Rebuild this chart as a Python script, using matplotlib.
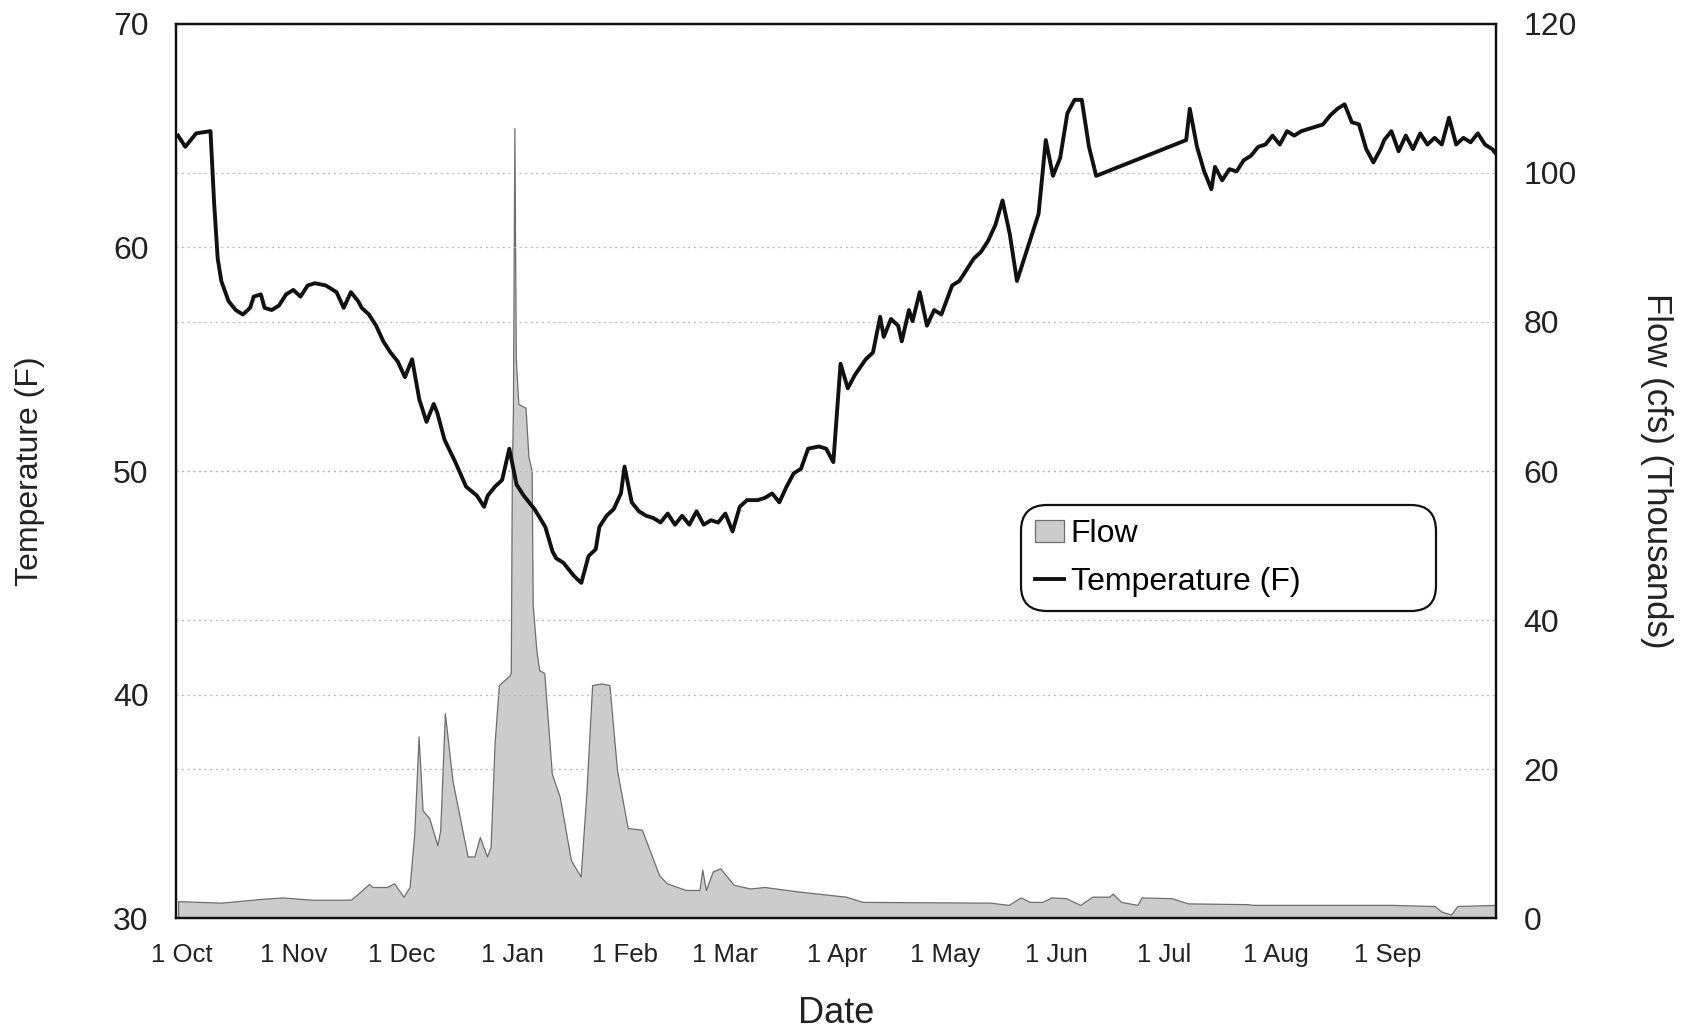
import matplotlib
matplotlib.use("Agg")
import matplotlib.pyplot as plt

# ---- data (day offset from 1 Oct) ----
temp_day = [-1, 1, 4, 8, 9, 10, 11, 13, 15, 17, 19, 20, 22, 23, 25, 27, 29, 31, 33, 35,
            37, 40, 43, 45, 47, 49, 50, 52, 54, 56, 58, 60, 62, 64, 66, 68, 70, 71, 73, 76,
            79, 82, 84, 85, 87, 89, 91, 93, 95, 98, 101, 103, 104, 106, 109, 111, 113, 115, 116, 118,
            120, 122, 123, 125, 127, 129, 131, 133, 135, 137, 139, 141, 143, 145, 147, 149, 151, 153, 155, 157,
            160, 162, 164, 166, 168, 170, 172, 174, 177, 179, 181, 183, 185, 187, 190, 192, 194, 195, 197, 199,
            200, 202, 203, 205, 207, 209, 211, 214, 216, 218, 220, 222, 224, 226, 228, 230, 232, 234, 236, 238,
            240, 242, 244, 246, 248, 250, 252, 254, 279, 280, 282, 284, 286, 287, 289, 291, 293, 295, 297, 299,
            301, 303, 305, 307, 309, 311, 313, 315, 317, 319, 321, 323, 325, 327, 329, 331, 333, 334, 336, 338,
            340, 342, 344, 346, 348, 350, 352, 354, 356, 358, 360, 362, 364, 365]
temp_val = [65.0, 64.5, 65.1, 65.2, 62.0, 59.5, 58.5, 57.6, 57.2, 57.0, 57.3, 57.8, 57.9, 57.3, 57.2, 57.4, 57.9, 58.1, 57.8, 58.3,
            58.4, 58.3, 58.0, 57.3, 58.0, 57.6, 57.3, 57.0, 56.5, 55.8, 55.3, 54.9, 54.2, 55.0, 53.2, 52.2, 53.0, 52.6, 51.4, 50.4,
            49.3, 48.9, 48.4, 48.9, 49.3, 49.6, 51.0, 49.4, 48.9, 48.3, 47.5, 46.4, 46.1, 45.9, 45.3, 45.0, 46.2, 46.5, 47.5, 48.0,
            48.3, 49.0, 50.2, 48.6, 48.2, 48.0, 47.9, 47.7, 48.1, 47.6, 48.0, 47.6, 48.2, 47.6, 47.8, 47.7, 48.1, 47.3, 48.4, 48.7,
            48.7, 48.8, 49.0, 48.6, 49.3, 49.9, 50.1, 51.0, 51.1, 51.0, 50.4, 54.8, 53.7, 54.3, 55.0, 55.3, 56.9, 56.0, 56.8, 56.5,
            55.8, 57.2, 56.7, 58.0, 56.5, 57.2, 57.0, 58.3, 58.5, 59.0, 59.5, 59.8, 60.3, 61.0, 62.1, 60.6, 58.5, 59.5, 60.5, 61.5,
            64.8, 63.2, 64.0, 66.0, 66.6, 66.6, 64.5, 63.2, 64.8, 66.2, 64.5, 63.4, 62.6, 63.6, 63.0, 63.5, 63.4, 63.9, 64.1, 64.5,
            64.6, 65.0, 64.6, 65.2, 65.0, 65.2, 65.3, 65.4, 65.5, 65.9, 66.2, 66.4, 65.6, 65.5, 64.4, 63.8, 64.4, 64.8, 65.2, 64.3,
            65.0, 64.4, 65.1, 64.6, 64.9, 64.6, 65.8, 64.6, 64.9, 64.7, 65.1, 64.6, 64.4, 64.2]

flow_day = [-1, 11, 22, 28, 36, 47, 49, 52, 53, 57, 59, 60, 61.6, 63.3, 64.6, 65.8, 66.9, 68.8, 71.0, 71.8,
            73.1, 75.2, 79.4, 81.3, 82.8, 84.8, 85.8, 86.9, 88.1, 91.1, 91.4, 91.7, 92.0, 92.4, 92.8, 93.5, 95.5, 96.3, 97.2, 97.5,
            98.5, 99.3, 100.7, 102.8, 105.0, 108.1, 110.8, 112.4, 114.0, 116.6, 118.8, 120.9, 123.9, 127.8, 132.6, 134.7, 140.0, 143.8, 144.6, 145.6,
            147.5, 149.6, 153.3, 157.9, 161.9, 171.2, 184.5, 189.1, 224.4, 229.7, 233.0, 235.6, 239.0, 241.6, 245.6, 249.6, 252.9, 257.6, 258.6, 260.9,
            265.5, 266.6, 274.9, 279.5, 296.1, 297.4, 336.0, 348.0, 349.9, 352.6, 354.3, 365.2]
flow_val = [2.3, 2.1, 2.6, 2.8, 2.5, 2.5, 3.3, 4.6, 4.2, 4.2, 4.7, 4.0, 2.9, 4.2, 11.4, 24.4, 14.5, 13.4, 9.8, 11.8,
            27.5, 18.5, 8.3, 8.3, 10.9, 8.3, 9.6, 23.5, 31.3, 32.6, 33.0, 60.0, 68.0, 106.0, 75.0, 69.0, 68.5, 62.0, 60.0, 42.0,
            36.0, 33.3, 32.9, 19.4, 16.3, 7.8, 5.6, 16.8, 31.3, 31.5, 31.3, 19.9, 12.1, 11.9, 5.8, 4.7, 3.8, 3.8, 6.5, 3.8,
            6.3, 6.7, 4.5, 4.0, 4.2, 3.6, 2.9, 2.2, 2.1, 1.8, 2.8, 2.2, 2.2, 2.8, 2.7, 1.8, 2.9, 2.9, 3.3, 2.2,
            1.8, 2.8, 2.7, 2.0, 1.9, 1.8, 1.8, 1.65, 0.9, 0.5, 1.65, 1.8]

month_ticks = [0, 31, 61, 92, 123, 151, 182, 212, 243, 273, 304, 335]
month_labels = ["1 Oct", "1 Nov", "1 Dec", "1 Jan", "1 Feb", "1 Mar",
                "1 Apr", "1 May", "1 Jun", "1 Jul", "1 Aug", "1 Sep"]
temp_ticks = [30, 40, 50, 60, 70]
flow_ticks = [0, 20, 40, 60, 80, 100, 120]

plt.rcParams['font.family'] = ['Liberation Sans', 'DejaVu Sans']

W, H = 1696, 1031
fig = plt.figure(figsize=(W / 100, H / 100), dpi=100)
L, R, T, B = 176.3, 1495.8, 23.8, 918.3
ax = fig.add_axes([L / W, 1 - B / H, (R - L) / W, (B - T) / H])
ax2 = ax.twinx()

# flow on secondary axis (drawn below the temperature line)
ax2.fill_between(flow_day, flow_val, 0, facecolor='#cccccc', edgecolor='#6e6e6e',
                 linewidth=0.9, label='Flow', zorder=2)
ax2.set_ylim(0, 120)
ax2.set_yticks(flow_ticks)
ax2.grid(axis='y', color='#b5b5b5', linestyle=(0, (1.5, 3)), linewidth=0.9, zorder=0)

ax.set_zorder(ax2.get_zorder() + 1)
ax.patch.set_visible(False)
ax.plot(temp_day, temp_val, color='#111111', linewidth=2.8, label='Temperature (F)',
        solid_joinstyle='round', zorder=3)
ax.set_ylim(30, 70)
ax.set_yticks(temp_ticks)
ax.set_xlim(-1.5, 365)
ax.set_xticks(month_ticks)
ax.set_xticklabels(month_labels)
ax.grid(axis='y', color='#b5b5b5', linestyle=(0, (1.5, 3)), linewidth=0.9)
ax.set_axisbelow(True)

for a in (ax, ax2):
    for s in a.spines.values():
        s.set_linewidth(1.6)
        s.set_color('#111111')

ax.tick_params(axis='y', length=0, pad=20, labelsize=23, colors='#222222')
ax.tick_params(axis='x', length=0, pad=18, labelsize=18.5, colors='#222222')
ax2.tick_params(axis='y', length=0, pad=20, labelsize=23, colors='#222222')

ax.set_ylabel("Temperature (F)", fontsize=23, color='#222222')
ax.yaxis.set_label_coords(-0.111, 0.5)
ax.yaxis.label.set_va('center')
ax.yaxis.label.set_ha('center')
ax.set_xlabel("Date", fontsize=26, color='#222222')
ax.xaxis.set_label_coords(0.5, -0.106)
ax.xaxis.label.set_va('center')
ax2.set_ylabel("Flow (cfs) (Thousands)", fontsize=25, rotation=270, color='#222222')
ax2.yaxis.set_label_coords(1.122, 0.5)
ax2.yaxis.label.set_va('center')
ax2.yaxis.label.set_ha('center')

h1, l1 = ax2.get_legend_handles_labels()
h2, l2 = ax.get_legend_handles_labels()
leg = ax.legend(h1 + h2, l1 + l2, loc='center left', bbox_to_anchor=(0.645, 0.35, 0.305, 0.105),
                mode='expand', fontsize=23, frameon=True, fancybox=True, framealpha=1,
                edgecolor='#111111', handlelength=0.9, handletextpad=0.2, borderpad=0.25,
                labelspacing=0.55, borderaxespad=0)
leg.get_frame().set_linewidth(1.6)
leg.get_frame().set_boxstyle('round,pad=0.2,rounding_size=0.8')

fig.savefig("out.png", dpi=100, facecolor='white')
